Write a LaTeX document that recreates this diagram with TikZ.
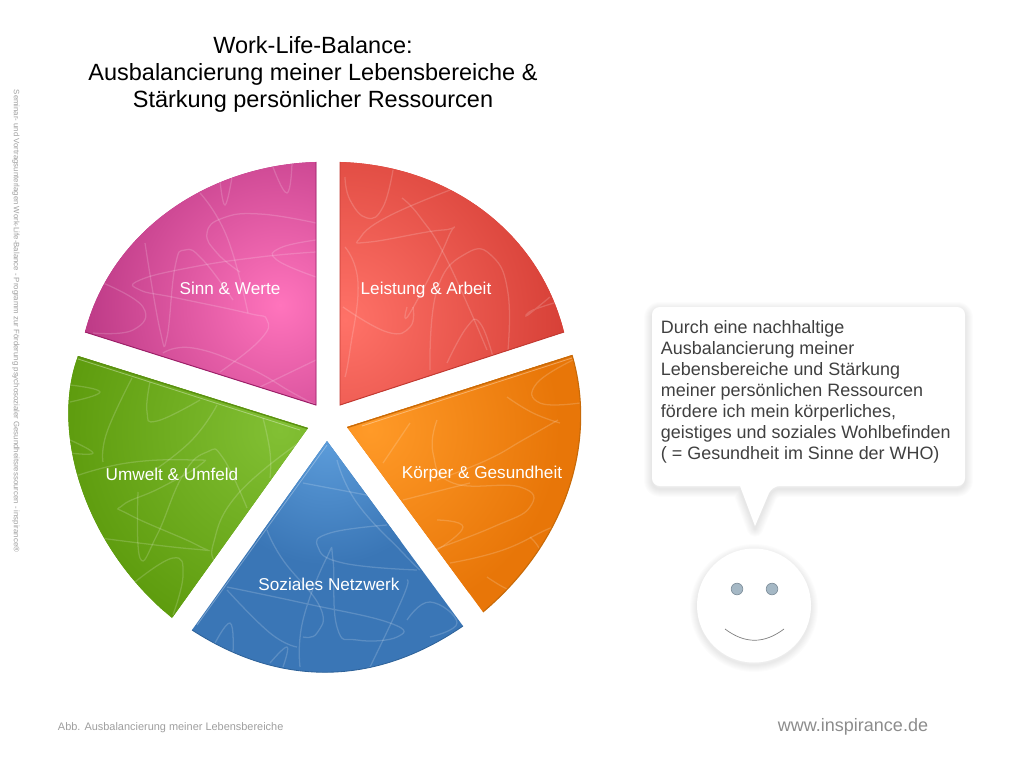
\documentclass[tikz,border=0pt]{standalone}
\usepackage{xcolor}
\usepackage{fontspec}
\setmainfont{Liberation Sans}

\definecolor{sinnDark}{HTML}{B02F7C}
\definecolor{sinnLight}{HTML}{FF74BC}
\definecolor{sinnRim}{HTML}{9C2068}
\definecolor{leistungDark}{HTML}{D63F36}
\definecolor{leistungLight}{HTML}{FF7268}
\definecolor{leistungRim}{HTML}{C23A32}
\definecolor{koerperDark}{HTML}{E87608}
\definecolor{koerperLight}{HTML}{FF9A28}
\definecolor{koerperRim}{HTML}{C86A08}
\definecolor{sozialDark}{HTML}{3A76B6}
\definecolor{sozialLight}{HTML}{5C9CDA}
\definecolor{sozialRim}{HTML}{2E6299}
\definecolor{umweltDark}{HTML}{5E9C0E}
\definecolor{umweltLight}{HTML}{82C034}
\definecolor{umweltRim}{HTML}{5A8F10}
\definecolor{eyeFill}{HTML}{A5B8C5}
\definecolor{eyeRim}{HTML}{82929E}

\newcommand{\sinnpath}{(316,162) .. controls (210,165) and (112,229) .. (85,332) -- (316,405) -- cycle}
\newcommand{\leistungpath}{(340,162) .. controls (446,165) and (538,229) .. (564,332) -- (340,405) -- cycle}
\newcommand{\koerperpath}{(572,355) .. controls (597,440) and (568,540) .. (483,612) -- (347,427) -- cycle}
\newcommand{\sozialpath}{(192,630) .. controls (280,687) and (374,687) .. (463,626) -- (327,441) -- cycle}
\newcommand{\umweltpath}{(78,356) .. controls (50,430) and (83,545) .. (172,618) -- (308,428) -- cycle}
\newcommand{\bubblepath}{(652,307) [rounded corners=5.5pt] -- (965,307) -- (965,486) -- (772,486) [sharp corners] -- (755,526) -- (740,486) [rounded corners=5.5pt] -- (652,486) -- cycle}

\tikzset{
	squiggle/.style={draw=white, opacity=0.17, line width=0.9pt, tension=0.8},
	segment/.style={text=white, text height=9pt, text depth=3pt, font=\fontsize{12.2}{14}\selectfont},
	softshadow/.style={draw=black, opacity=0.012, line join=round},
}

\begin{document}
\begin{tikzpicture}[x=0.025cm, y=-0.025cm]
	\useasboundingbox (0, 0) rectangle (1024, 768);

	% Sinn und Werte
	\begin{scope}
		\clip \sinnpath;
		\fill[sinnDark] (60, 150) rectangle (330, 420);
		\shade[inner color=sinnLight, outer color=sinnDark] (280, 305) circle (235);
		\draw[squiggle] plot[smooth] coordinates {(316,252) (260,257) (193,267) (140,280) (140,290) (177,298) (247,313) (267,320) (260,340) (220,372)};
		\draw[squiggle] plot[smooth] coordinates {(316,223) (260,214) (223,218) (207,233) (217,253) (240,272)};
		\draw[squiggle] plot[smooth] coordinates {(200,193) (227,237) (248,313)};
		\draw[squiggle] plot[smooth] coordinates {(145,243) (160,330) (167,337) (175,267) (185,250) (203,260) (233,300)};
		\draw[squiggle] plot[smooth] coordinates {(220,180) (225,205) (232,177)};
		\draw[squiggle] plot[smooth] coordinates {(273,167) (287,193) (292,163)};
		\draw[squiggle] plot[smooth] coordinates {(103,283) (143,307) (133,330) (93,333)};
		\draw[squiggle] plot[smooth] coordinates {(163,353) (193,348) (247,367) (293,393) (316,405)};
		\draw[squiggle] plot[smooth] coordinates {(260,387) (316,360)};
		\draw[squiggle] plot[smooth] coordinates {(316,240) (280,248) (277,260) (316,277)};
	\end{scope}
	\draw[sinnRim, line width=0.7pt] (85,332) -- (316,405) -- (316,162);

	% Leistung und Arbeit
	\begin{scope}
		\clip \leistungpath;
		\fill[leistungDark] (330, 150) rectangle (580, 420);
		\shade[inner color=leistungLight, outer color=leistungDark] (345, 320) circle (225);
		\draw[squiggle] plot[smooth] coordinates {(393,170) (383,207) (367,218) (350,200) (345,177)};
		\draw[squiggle] plot[smooth] coordinates {(450,190) (387,217) (360,238) (370,242) (443,230) (448,238) (410,313) (407,307)};
		\draw[squiggle] plot[smooth] coordinates {(402,198) (420,217) (447,260) (487,350)};
		\draw[squiggle] plot[smooth] coordinates {(343,307) (387,332) (410,327) (413,307)};
		\draw[squiggle] plot[smooth] coordinates {(345,247) (358,283) (350,350) (345,377)};
		\draw[squiggle] plot[smooth] coordinates {(430,370) (437,290) (467,253) (493,257) (508,293) (508,350)};
		\draw[squiggle] plot[smooth] coordinates {(447,363) (467,327) (480,323) (493,357)};
		\draw[squiggle] plot[smooth] coordinates {(564,300) (533,310) (528,315) (550,297)};
	\end{scope}
	\draw[leistungRim, line width=0.7pt] (564,332) -- (340,405) -- (340,162);

	% Koerper und Gesundheit
	\begin{scope}
		\clip \koerperpath;
		\fill[koerperDark] (340, 345) rectangle (600, 620);
		\shade[inner color=koerperLight, outer color=koerperDark] (370, 430) circle (190);
		\draw[squiggle] plot[smooth] coordinates {(437,420) (433,453) (453,483) (520,487) (530,507) (493,527) (433,550)};
		\draw[squiggle] plot[smooth] coordinates {(403,500) (470,483)};
		\draw[squiggle] plot[smooth] coordinates {(450,563) (503,550) (553,527) (583,520)};
		\draw[squiggle] plot[smooth] coordinates {(383,463) (410,423)};
		\draw[squiggle] plot[smooth] coordinates {(558,420) (523,440) (487,460) (437,480)};
		\draw[squiggle] plot[smooth] coordinates {(577,358) (537,383) (540,403) (580,403)};
		\draw[squiggle] plot[smooth] coordinates {(507,397) (533,413) (560,423)};
		\draw[squiggle] plot[smooth] coordinates {(437,520) (463,527) (437,550)};
		\draw[squiggle] plot[smooth] coordinates {(530,537) (540,550) (545,570)};
		\draw[squiggle] plot[smooth] coordinates {(487,577) (503,587) (517,593)};
		\draw[koerperRim, line width=1.8pt] (347,427) -- (572,355);
		\draw[white, opacity=0.35, line width=0.6pt] (362,426) -- (572,358);
	\end{scope}
	\draw[koerperRim, line width=0.8pt] (572,355) .. controls (597,440) and (568,540) .. (483,612);

	% Soziales Netzwerk
	\begin{scope}
		\clip \sozialpath;
		\fill[sozialDark] (180, 430) rectangle (480, 680);
		\shade[inner color=sozialLight, outer color=sozialDark] (327, 440) circle (125);
		\draw[squiggle] plot[smooth] coordinates {(337,460) (357,503) (403,553) (420,570)};
		\draw[squiggle] plot[smooth] coordinates {(303,483) (377,497)};
		\draw[squiggle] plot[smooth] coordinates {(387,525) (330,533) (318,547) (343,563) (417,570)};
		\draw[squiggle] plot[smooth] coordinates {(267,530) (283,560) (320,607) (317,633) (303,637)};
		\draw[squiggle] plot[smooth] coordinates {(300,667) (303,620) (327,557) (333,560) (337,627) (357,640) (397,637) (390,623) (303,603) (227,587)};
		\draw[squiggle] plot[smooth] coordinates {(370,667) (403,597) (407,580)};
		\draw[squiggle] plot[smooth] coordinates {(213,647) (230,623) (233,653)};
		\draw[squiggle] plot[smooth] coordinates {(227,590) (270,633) (297,647)};
		\draw[squiggle] plot[smooth] coordinates {(407,620) (430,602) (457,623) (430,637)};
		\draw[squiggle] plot[smooth] coordinates {(270,663) (287,647) (283,667)};
		\draw[white, opacity=0.3, line width=0.6pt] (327,445) -- (197,625);
	\end{scope}
	\draw[sozialRim, line width=0.6pt] (192,630) .. controls (280,687) and (374,687) .. (463,626);

	% Umwelt und Umfeld
	\begin{scope}
		\clip \umweltpath;
		\fill[umweltDark] (60, 345) rectangle (320, 625);
		\shade[inner color=umweltLight, outer color=umweltDark] (280, 430) circle (215);
		\draw[squiggle] plot[smooth] coordinates {(70,385) (100,392) (70,402)};
		\draw[squiggle] plot[smooth] coordinates {(132,378) (107,432) (103,462)};
		\draw[squiggle] plot[smooth] coordinates {(150,382) (147,412) (157,421) (200,400)};
		\draw[squiggle] plot[smooth] coordinates {(217,405) (190,442) (143,478)};
		\draw[squiggle] plot[smooth] coordinates {(70,440) (93,453) (70,453)};
		\draw[squiggle] plot[smooth] coordinates {(70,478) (127,463) (193,460) (200,465) (160,488) (123,505) (130,515) (197,545) (193,549) (100,538)};
		\draw[squiggle] plot[smooth] coordinates {(138,492) (140,558) (157,535) (183,475) (207,452) (223,458) (247,508)};
		\draw[squiggle] plot[smooth] coordinates {(300,442) (237,495) (213,545) (217,562)};
		\draw[squiggle] plot[smooth] coordinates {(263,418) (270,452) (270,478)};
		\draw[squiggle] plot[smooth] coordinates {(135,582) (173,558) (183,575) (173,615)};
		\draw[umweltRim, line width=1.8pt] (78,356) -- (308,428);
		\draw[white, opacity=0.35, line width=0.6pt] (78,359) -- (300,430);
	\end{scope}

	% Labels of the segments
	\node[segment] (sinn) at (230, 290) {Sinn \& Werte};
	\node[segment] (leistung) at (426, 290) {Leistung \& Arbeit};
	\node[segment] (koerper) at (482, 474) {Körper \& Gesundheit};
	\node[segment] (sozial) at (329, 586) {Soziales Netzwerk};
	\node[segment] (umwelt) at (172, 476) {Umwelt \& Umfeld};

	% Title and small print
	\node[align=center, font=\fontsize{16.7}{19.2}\selectfont] (title) at (313, 74)
		{Work-Life-Balance:\\Ausbalancierung meiner Lebensbereiche \&\\Stärkung persönlicher Ressourcen};
	\node[rotate=-90, text=black!38, font=\fontsize{5.55}{6}\selectfont] (side) at (16, 321)
		{Seminar- und Vortragsunterlagen Work-Life-Balance - Programm zur Förderung psychosozialer Gesundheitsressourcen - inspirance®};
	\node[anchor=west, text=black!38, font=\fontsize{7.78}{9}\selectfont] (caption) at (53, 728)
		{Abb. Ausbalancierung meiner Lebensbereiche};
	\node[anchor=east, text=black!45, font=\fontsize{12.8}{15}\selectfont] (web) at (933, 727)
		{www.inspirance.de};

	% Speech bubble
	\foreach \w in {2, 4, ..., 16} {
		\draw[softshadow, line width=\w*0.71pt, yshift=-0.07cm] \bubblepath;
	}
	\fill[white] \bubblepath;
	\node[anchor=north west, align=left, text=black!75, font=\fontsize{12.75}{14.9}\selectfont] (bubble) at (656, 316)
		{Durch eine nachhaltige\\Ausbalancierung meiner\\Lebensbereiche und Stärkung\\meiner persönlichen Ressourcen\\fördere ich mein körperliches,\\geistiges und soziales Wohlbefinden\\( = Gesundheit im Sinne der WHO)};

	% Face
	\coordinate (facecentre) at (754, 605.5);
	\foreach \w in {2, 4, ..., 14} {
		\draw[softshadow, line width=\w*0.71pt] (754, 608) circle (57);
	}
	\fill[white] (facecentre) circle (57);
	\node[circle, draw=eyeRim, fill=eyeFill, inner sep=0pt, minimum size=0.29cm, line width=0.5pt] (eyeleft) at (737, 589) {};
	\node[circle, draw=eyeRim, fill=eyeFill, inner sep=0pt, minimum size=0.29cm, line width=0.5pt] (eyeright) at (772, 589) {};
	\coordinate (mouthleft) at (725, 629);
	\coordinate (mouthright) at (784, 629);
	\draw[black!50, line width=0.5pt] (mouthleft) .. controls (745, 644) and (764, 644) .. (mouthright);
\end{tikzpicture}
\end{document}
